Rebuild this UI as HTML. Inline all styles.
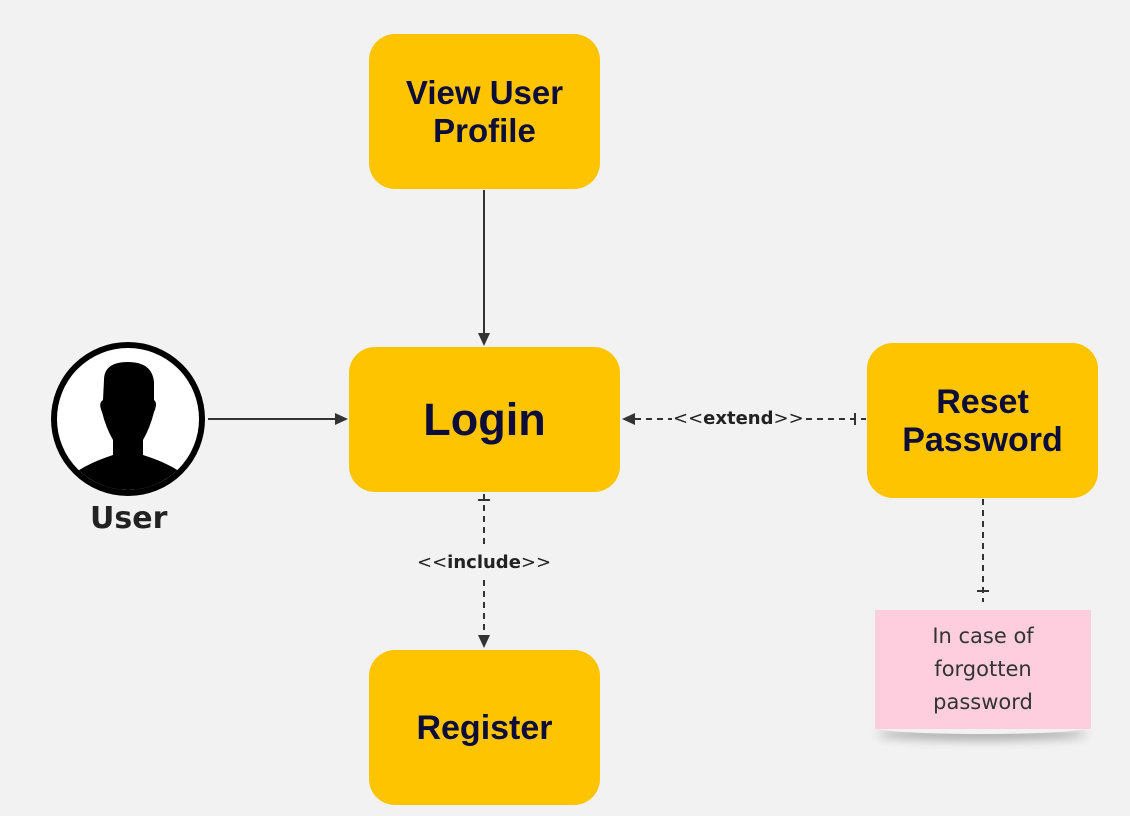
<!DOCTYPE html>
<html><head><style>
body{margin:0;width:1130px;height:816px;background:#f2f2f2;position:relative;overflow:hidden;font-family:"Liberation Sans",sans-serif}
.b{position:absolute;background:#ffc400;border-radius:26px;display:flex;align-items:center;justify-content:center;text-align:center;color:#0d0d3a;font-weight:bold;font-size:33px;line-height:38px}
.t{position:absolute;font-family:"DejaVu Sans","Liberation Sans",sans-serif;color:#222}
</style></head><body>
<div class="b" style="left:369px;top:34px;width:231px;height:155px">View User<br>Profile</div>
<div class="b" style="left:349px;top:347px;width:271px;height:145px;font-size:45px">Login</div>
<div class="b" style="left:867px;top:343px;width:231px;height:155px;font-size:34px">Reset<br>Password</div>
<div class="b" style="left:369px;top:650px;width:231px;height:155px;font-size:34px">Register</div>
<div style="position:absolute;left:877px;top:722px;width:210px;height:12px;box-shadow:0 6px 10px rgba(0,0,0,.3);border-radius:50%"></div>
<div style="position:absolute;left:875px;top:610px;width:216px;height:119px;background:#ffcede;display:flex;align-items:center;justify-content:center;text-align:center;font-family:'DejaVu Sans',sans-serif;font-size:21px;line-height:33px;color:#333">In case of<br>forgotten<br>password</div>
<svg width="1130" height="816" style="position:absolute;left:0;top:0">
<circle cx="128" cy="419" r="74" fill="#fff" stroke="#000" stroke-width="6"/>
<clipPath id="c"><circle cx="128" cy="419" r="71"/></clipPath>
<g clip-path="url(#c)" fill="#000">
<path d="M104,380 Q104,362 128,362 Q152,362 154,382 L154,400 Q158,403 154,412 Q150,428 143,440 L143,455 Q175,465 190,480 L190,500 L66,500 L66,480 Q82,465 113,455 L113,440 Q106,428 102,412 Q98,403 103,400 Z"/>
</g>
<g stroke="#333" stroke-width="2" fill="#333">
<line x1="484" y1="190" x2="484" y2="334"/><path d="M478,333 L490,333 L484,346Z" stroke="none"/>
<line x1="208" y1="419" x2="336" y2="419"/><path d="M335,413 L335,425 L348,419Z" stroke="none"/>
<line x1="484" y1="494" x2="484" y2="548" stroke-dasharray="6,5"/>
<line x1="484" y1="580" x2="484" y2="636" stroke-dasharray="6,5"/>
<line x1="478" y1="500" x2="490" y2="500"/>
<path d="M478,635 L490,635 L484,648Z" stroke="none"/>
<line x1="635" y1="419" x2="672" y2="419" stroke-dasharray="6,5"/>
<line x1="806" y1="419" x2="866" y2="419" stroke-dasharray="6,5"/>
<line x1="855" y1="413" x2="855" y2="425"/>
<path d="M622,419 L635,413 L635,425Z" stroke="none"/>
<line x1="983" y1="499" x2="983" y2="602" stroke-dasharray="6,5"/>
<line x1="977" y1="591" x2="989" y2="591"/>
</g>
</svg>
<div class="t" style="left:90px;top:501px;font-size:30px;font-weight:bold">User</div>
<div class="t" style="left:417px;top:552px;font-size:18px">&lt;&lt;<b>include</b>&gt;&gt;</div>
<div class="t" style="left:673px;top:408px;font-size:18px">&lt;&lt;<b>extend</b>&gt;&gt;</div>
</body></html>
